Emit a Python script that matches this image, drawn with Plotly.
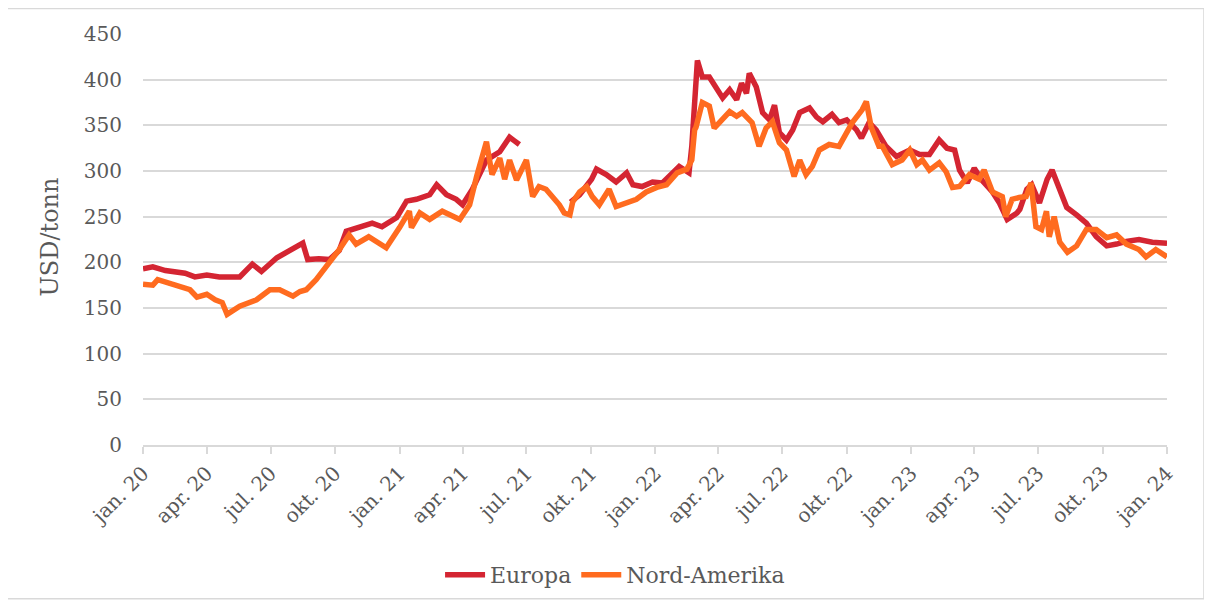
import plotly.graph_objects as go

# ---- Data ----
europa_dates = [
    "2020-01-01", "2020-01-15", "2020-02-02", "2020-02-16", "2020-03-01", "2020-03-15",
    "2020-04-01", "2020-04-19", "2020-05-18", "2020-06-05", "2020-06-18", "2020-07-10",
    "2020-07-28", "2020-08-07", "2020-08-16", "2020-08-23", "2020-09-08", "2020-09-23",
    "2020-10-07", "2020-10-17", "2020-11-04", "2020-11-23", "2020-12-07", "2020-12-28",
    "2021-01-11", "2021-01-25", "2021-02-13", "2021-02-23", "2021-03-09", "2021-03-23",
    "2021-04-01", "2021-04-15", "2021-04-25", "2021-05-05", "2021-05-24", "2021-06-07",
    "2021-06-14", "2021-06-21", "2021-07-20", "2021-09-02", "2021-09-15", "2021-10-02",
    "2021-10-09", "2021-10-23", "2021-11-06", "2021-11-21", "2021-11-30", "2021-12-13",
    "2021-12-28", "2022-01-11", "2022-01-25", "2022-02-04", "2022-02-18", "2022-02-22",
    "2022-03-02", "2022-03-09", "2022-03-19", "2022-03-29", "2022-04-07", "2022-04-17",
    "2022-04-27", "2022-05-04", "2022-05-11", "2022-05-15", "2022-05-25", "2022-06-03",
    "2022-06-13", "2022-06-20", "2022-06-27", "2022-07-07", "2022-07-16", "2022-07-26",
    "2022-08-09", "2022-08-19", "2022-08-28", "2022-09-10", "2022-09-20", "2022-10-01",
    "2022-10-15", "2022-10-22", "2022-11-02", "2022-11-12", "2022-11-26", "2022-12-11",
    "2022-12-30", "2023-01-13", "2023-01-27", "2023-02-10", "2023-02-21", "2023-03-04",
    "2023-03-11", "2023-03-22", "2023-04-01", "2023-04-13", "2023-04-27", "2023-05-07",
    "2023-05-18", "2023-06-01", "2023-06-05", "2023-06-15", "2023-06-22", "2023-07-03",
    "2023-07-14", "2023-07-21", "2023-08-01", "2023-08-11", "2023-08-25", "2023-09-08",
    "2023-09-22", "2023-10-07", "2023-10-21", "2023-11-04", "2023-11-22", "2023-12-11",
    "2024-01-01",
]
europa_values = [
    193, 195, 191, 190, 188, 184,
    186, 184, 184, 198, 190, 205,
    212, 216, 221, 203, 204, 203,
    213, 234, 238, 243, 239, 249,
    267, 269, 274, 285, 274, 269,
    263, 280, 296, 312, 321, 337,
    333, 329, None, 266, 274, 291,
    302, 296, 288, 298, 285, 283,
    288, 287, 298, 305, 298, 327,
    421, 403, 403, 392, 380, 389,
    378, 396, 385, 407, 392, 364,
    356, 372, 342, 334, 345, 364,
    369, 359, 354, 362, 353, 356,
    345, 336, 353, 345, 327, 316,
    323, 318, 318, 334, 325, 323,
    301, 287, 303, 289, 277, 265,
    247, 254, 258, 280, 285, 265,
    291, 301, 280, 260, 252, 243,
    228, 218, 220, 223, 225, 222,
    221,
]

nordamerika_dates = [
    "2020-01-01", "2020-01-15", "2020-01-22", "2020-02-08", "2020-02-27", "2020-03-08",
    "2020-03-18", "2020-04-01", "2020-04-13", "2020-04-23", "2020-04-30", "2020-05-07",
    "2020-05-18", "2020-06-11", "2020-06-30", "2020-07-14", "2020-08-02", "2020-08-12",
    "2020-08-21", "2020-09-04", "2020-09-18", "2020-10-02", "2020-10-07", "2020-10-21",
    "2020-10-31", "2020-11-18", "2020-12-13", "2021-01-01", "2021-01-15", "2021-01-18",
    "2021-01-30", "2021-02-13", "2021-03-03", "2021-03-28", "2021-04-11", "2021-04-21",
    "2021-04-30", "2021-05-05", "2021-05-13", "2021-05-24", "2021-05-31", "2021-06-07",
    "2021-06-17", "2021-07-01", "2021-07-10", "2021-07-19", "2021-07-29", "2021-08-07",
    "2021-08-17", "2021-08-24", "2021-09-01", "2021-09-05", "2021-09-15", "2021-09-25",
    "2021-10-03", "2021-10-13", "2021-10-27", "2021-11-06", "2021-11-21", "2021-12-05",
    "2021-12-19", "2022-01-03", "2022-01-17", "2022-02-01", "2022-02-15", "2022-02-22",
    "2022-02-26", "2022-02-28", "2022-03-09", "2022-03-19", "2022-03-26", "2022-04-07",
    "2022-04-17", "2022-04-27", "2022-05-05", "2022-05-19", "2022-05-29", "2022-06-08",
    "2022-06-17", "2022-06-27", "2022-07-07", "2022-07-18", "2022-07-26", "2022-08-04",
    "2022-08-13", "2022-08-23", "2022-09-06", "2022-09-20", "2022-10-01", "2022-10-09",
    "2022-10-23", "2022-10-29", "2022-11-05", "2022-11-16", "2022-11-21", "2022-12-05",
    "2022-12-19", "2022-12-30", "2023-01-09", "2023-01-17", "2023-01-27", "2023-02-10",
    "2023-02-20", "2023-03-01", "2023-03-11", "2023-03-25", "2023-04-08", "2023-04-15",
    "2023-04-27", "2023-05-11", "2023-05-16", "2023-05-25", "2023-06-04", "2023-06-14",
    "2023-06-21", "2023-06-28", "2023-07-06", "2023-07-13", "2023-07-17", "2023-07-24",
    "2023-08-01", "2023-08-12", "2023-08-25", "2023-09-08", "2023-09-22", "2023-10-07",
    "2023-10-21", "2023-11-04", "2023-11-22", "2023-12-02", "2023-12-16", "2024-01-01",
]
nordamerika_values = [
    176, 175, 181, 177, 172, 170,
    162, 165, 159, 156, 143, 146,
    152, 159, 170, 170, 163, 168,
    170, 181, 194, 209, 214, 230,
    220, 228, 216, 238, 256, 238,
    254, 247, 256, 247, 263, 294,
    321, 332, 296, 314, 291, 312,
    290, 312, 272, 283, 280, 272,
    263, 254, 252, 266, 277, 283,
    272, 263, 280, 261, 265, 269,
    277, 282, 285, 298, 302, 312,
    345, 348, 375, 371, 347, 356,
    365, 360, 364, 353, 327, 347,
    354, 331, 323, 294, 312, 296,
    305, 323, 329, 327, 342, 353,
    367, 376, 348, 327, 327, 307,
    312, 323, 307, 312, 301, 309,
    299, 282, 283, 296, 291, 301,
    277, 272, 250, 269, 271, 272,
    287, 239, 236, 256, 228, 250,
    222, 211, 218, 236, 236, 227,
    230, 220, 214, 206, 214, 206,
]

tick_dates = [
    "2020-01-01", "2020-04-01", "2020-07-01", "2020-10-01",
    "2021-01-01", "2021-04-01", "2021-07-01", "2021-10-01",
    "2022-01-01", "2022-04-01", "2022-07-01", "2022-10-01",
    "2023-01-01", "2023-04-01", "2023-07-01", "2023-10-01",
    "2024-01-01",
]
tick_labels = [
    "jan. 20", "apr. 20", "jul. 20", "okt. 20",
    "jan. 21", "apr. 21", "jul. 21", "okt. 21",
    "jan. 22", "apr. 22", "jul. 22", "okt. 22",
    "jan. 23", "apr. 23", "jul. 23", "okt. 23",
    "jan. 24",
]
y_ticks = [0, 50, 100, 150, 200, 250, 300, 350, 400, 450]

# ---- Styles ----
RED = "#d42532"
ORANGE = "#ff6b1f"
GRID = "#d9d9d9"
TEXT = "#595959"
FONT = "DejaVu Serif"

fig = go.Figure()
fig.add_trace(go.Scatter(
    x=europa_dates, y=europa_values, name="Europa", mode="lines",
    line=dict(color=RED, width=5.5), connectgaps=False,
))
fig.add_trace(go.Scatter(
    x=nordamerika_dates, y=nordamerika_values, name="Nord-Amerika", mode="lines",
    line=dict(color=ORANGE, width=5.5),
))

fig.update_layout(
    width=1204, height=598,
    margin=dict(l=135, r=45, t=26, b=160),
    paper_bgcolor="white", plot_bgcolor="white",
    font=dict(family=FONT, color=TEXT, size=20),
    showlegend=True,
    legend=dict(
        orientation="h", x=0.461, xanchor="center", y=-0.313, yanchor="middle",
        font=dict(size=22, color=TEXT, family=FONT), itemwidth=40,
        traceorder="normal",
    ),
    xaxis=dict(
        type="date", range=["2020-01-01", "2024-01-01"],
        tickmode="array", tickvals=tick_dates, ticktext=tick_labels,
        tickangle=-45, showgrid=False, zeroline=False,
        showline=True, linecolor=GRID, linewidth=1.5,
        ticks="outside", ticklen=7, tickcolor=GRID, tickwidth=1.5,
        tickfont=dict(size=20, color=TEXT, family=FONT),
    ),
    yaxis=dict(
        range=[0, 450], tickmode="array", tickvals=y_ticks,
        showgrid=True, gridcolor=GRID, gridwidth=1.5, zeroline=False,
        showline=False, ticks="", ticklabelstandoff=20,
        tickfont=dict(size=20, color=TEXT, family=FONT),
    ),
    annotations=[dict(
        text="USD/tonn", xref="paper", yref="paper",
        x=-0.0908, y=0.505, xanchor="center", yanchor="middle",
        textangle=-90, showarrow=False,
        font=dict(size=24, color=TEXT, family=FONT),
    )],
    shapes=[dict(
        type="rect", xref="paper", yref="paper",
        x0=-0.1328, x1=1.0361, y0=-0.3738, y1=1.0619,
        line=dict(color=GRID, width=1.5), fillcolor="rgba(0,0,0,0)", layer="below",
    )],
)

fig.write_html("out.html")
